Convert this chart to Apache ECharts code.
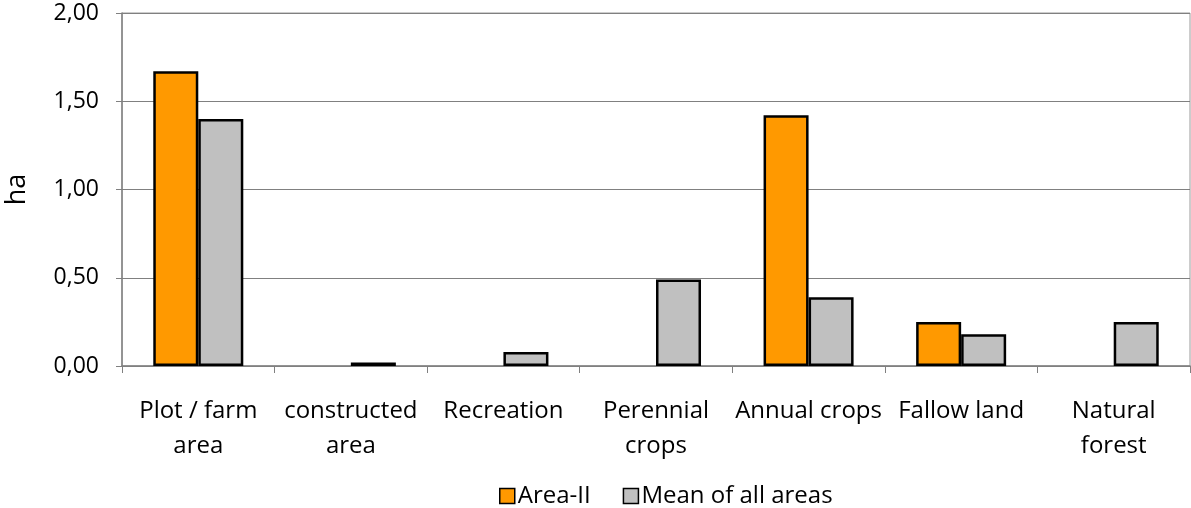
<!DOCTYPE html>
<html><head><meta charset="utf-8">
<script src="https://cdn.jsdelivr.net/npm/echarts@6/dist/echarts.min.js"></script>
<style>html,body{margin:0;padding:0;background:#fff}#c{width:1191px;height:508px}</style>
</head><body><div id="c"></div>
<script>
const categories = ["Plot / farm\narea", "constructed\narea", "Recreation", "Perennial\ncrops", "Annual crops", "Fallow land", "Natural\nforest"];
const areaII = [1.67, 0, 0, 0, 1.42, 0.25, 0];
const meanAll = [1.40, 0.02, 0.08, 0.49, 0.39, 0.18, 0.25];
const yTicks = [0, 0.5, 1, 1.5, 2];

const font = '"Open Sans", sans-serif';
const hideZero = arr => arr.map(v => v === 0 ? '-' : v);
const chart = echarts.init(document.getElementById('c'), null, {renderer: 'canvas'});
chart.setOption({
  animation: false,
  backgroundColor: '#fff',
  textStyle: {fontFamily: font},
  grid: {left: 122, right: 1, top: 13, bottom: 142, show: true, borderColor: '#9a9a9a', borderWidth: 1,
    containLabel: false, outerBoundsMode: 'none'},
  legend: {
    bottom: -5, left: 494, itemWidth: 15, itemHeight: 15, itemGap: 32,
    textStyle: {fontSize: 24, color: '#000', fontFamily: font, padding: [0, 0, 0, -2]},
    data: [
      {name: 'Area-II', icon: 'rect', itemStyle: {color: '#FF9900', borderColor: '#000', borderWidth: 1.5}},
      {name: 'Mean of all areas', icon: 'rect', itemStyle: {color: '#C0C0C0', borderColor: '#000', borderWidth: 1.5}}
    ]
  },
  xAxis: {
    type: 'category', data: categories,
    axisLine: {lineStyle: {color: '#808080', width: 1.5}},
    axisTick: {show: true, length: 7, interval: 0, lineStyle: {color: '#808080'}},
    axisLabel: {interval: 0, fontSize: 24, color: '#000', lineHeight: 35, margin: 28, fontFamily: font},
    splitLine: {show: false}
  },
  yAxis: {
    type: 'value', min: 0, max: 2, interval: 0.5,
    name: 'ha', nameLocation: 'middle', nameGap: 91, nameRotate: 90,
    nameTextStyle: {fontSize: 27, color: '#000', fontFamily: font},
    axisLine: {show: true, lineStyle: {color: '#808080', width: 1.5}},
    axisTick: {show: true, length: 6, lineStyle: {color: '#808080'}},
    axisLabel: {fontSize: 23, color: '#000', margin: 23, fontFamily: font,
      formatter: v => v.toFixed(2).replace('.', ',')},
    splitLine: {lineStyle: {color: '#808080', width: 1}}
  },
  series: [
    {name: 'Area-II', type: 'bar', data: hideZero(areaII), barGap: '0%', barCategoryGap: '41%',
      itemStyle: {color: '#FF9900', borderColor: '#000', borderWidth: 2.5}},
    {name: 'Mean of all areas', type: 'bar', data: hideZero(meanAll), barGap: '0%', barCategoryGap: '41%',
      itemStyle: {color: '#C0C0C0', borderColor: '#000', borderWidth: 2.5}}
  ]
});
</script></body></html>
